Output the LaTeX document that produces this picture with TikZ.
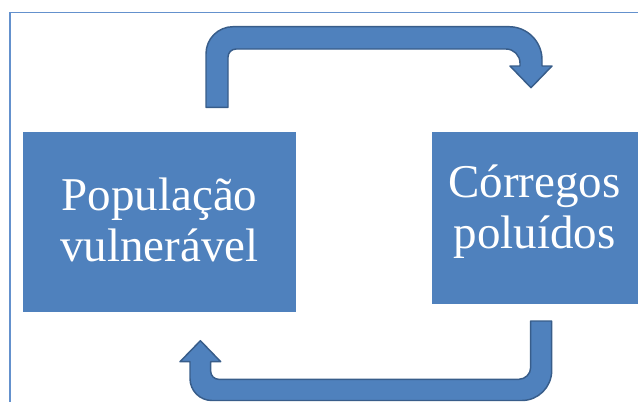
\documentclass[tikz,border=0pt]{standalone}
\usepackage{fontspec}
\setmainfont{Liberation Serif}
\definecolor{boxblue}{RGB}{79,129,189}
\definecolor{edgeblue}{RGB}{56,93,138}
\definecolor{frameblue}{RGB}{100,145,205}
\tikzset{every picture/.style={line width=0.75pt}}
\tikzset{
  blockbox/.style={fill=boxblue, draw=white, line width=0.4pt, inner sep=0pt},
  boxlabel/.style={text=white, align=center, inner sep=0pt, font=\fontsize{35.25}{38.25}\selectfont},
  bentarrow/.style={fill=boxblue, draw=edgeblue, line width=1.1pt, line join=round}
}

\begin{document}
\begin{tikzpicture}[x=0.75pt,y=0.75pt,yscale=-1,xscale=1]
\useasboundingbox (0,0) rectangle (638,401);

%Frame
\draw [color=frameblue, line width=0.9pt] (10,405) -- (10,12.5) -- (645,12.5) ;

%Shape: Rectangle [id:pop]
\node [blockbox, minimum width=205.5pt, minimum height=135.75pt] (pop) at (159.5,221.8) {};
%Shape: Rectangle [id:cor]
\node [blockbox, minimum width=155.25pt, minimum height=129.5pt] (cor) at (534.5,217.7) {};

% Text Node
\node [boxlabel] (poptext) at (159.5,219.8) {População\\vulnerável};
% Text Node
\node [boxlabel] (cortext) at (534.5,211.2) {Córregos\\poluídos};

%Bent Arrow [id:top]
\draw [bentarrow] (206,107.3) -- (206,53.7) .. controls (206,38.8) and (218.1,26.7) .. (233,26.7)
  -- (509,26.7) .. controls (527.2,26.7) and (542,41.5) .. (542,59.7)
  -- (542,66) -- (552,66) -- (531,87.7) -- (510,66) -- (520,66)
  -- (520,63) .. controls (520,55.3) and (513.7,49) .. (506,49)
  -- (236,49) .. controls (231.6,49) and (228,52.6) .. (228,57)
  -- (228,107.3) -- cycle ;

%Bent Arrow [id:bottom]
\draw [bentarrow] (530.7,321) -- (551.7,321) -- (551.7,370.5) .. controls (551.7,387.1) and (538.3,400.5) .. (521.7,400.5)
  -- (212,400.5) .. controls (199.8,400.5) and (190,390.7) .. (190,378.5)
  -- (190,361.7) -- (180,361.7) -- (200.4,340.7) -- (220.7,361.7) -- (210.7,361.7)
  -- (210.7,371.3) .. controls (210.7,375.7) and (214.3,379.3) .. (218.7,379.3)
  -- (518.7,379.3) .. controls (525.3,379.3) and (530.7,373.9) .. (530.7,367.3)
  -- cycle ;

\end{tikzpicture}
\end{document}
